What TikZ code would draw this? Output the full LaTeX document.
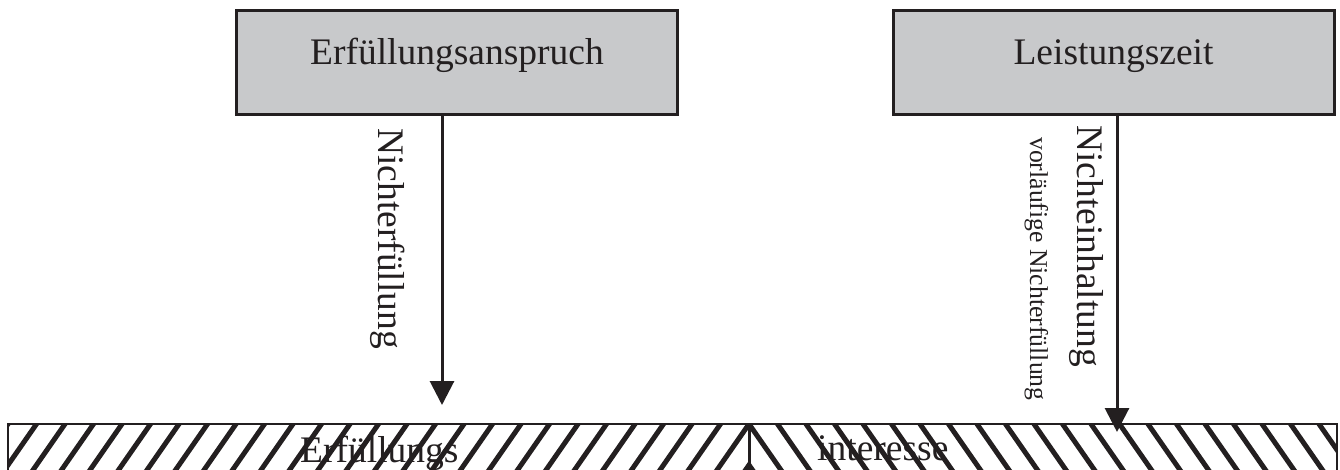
\documentclass[tikz,border=0pt]{standalone}
\usepackage{fontspec}
\setmainfont{Liberation Serif}
\usetikzlibrary{arrows.meta}
\definecolor{boxgray}{RGB}{200,201,203}
\definecolor{ink}{RGB}{35,31,32}
\begin{document}
\begin{tikzpicture}[x=1pt,y=-1pt,
  box/.style={draw=ink,line width=3pt,fill=boxgray,minimum width=441pt,minimum height=104pt,inner sep=0pt},
  big/.style={font=\fontsize{37.5}{40}\selectfont,text=ink,inner sep=0pt},
  small/.style={font=\fontsize{25.7}{28}\selectfont,text=ink,inner sep=0pt},
  flow/.style={draw=ink,line width=3pt,-{Triangle[width=24pt,length=24pt]}},
  hatch/.style={line width=5pt,draw=ink},
  bandline/.style={line width=2.5pt,draw=ink}]
\useasboundingbox (0,0) rectangle (1340,470);
% boxes
\node[box] (box1) at (457,63) {};
\node[big,anchor=base] (box1text) at (457,65) {Erfüllungsanspruch};
\node[box] (box2) at (1113.5,63) {};
\node[big,anchor=base] (box2text) at (1113.5,65) {Leistungszeit};
% band with hatching
\begin{scope}
  \clip (8,424) rectangle (749,500);
  \foreach \i in {-4,...,30} {
    \draw[hatch] ({749-28.5*\i+0.695*20},404) -- ({749-28.5*\i-0.695*100},524);
  }
\end{scope}
\begin{scope}
  \clip (749,424) rectangle (1337,500);
  \foreach \i in {-4,...,24} {
    \draw[hatch] ({749+28.5*\i-0.695*20},404) -- ({749+28.5*\i+0.695*100},524);
  }
\end{scope}
\draw[bandline] (8,424) rectangle (1337,500);
\coordinate (mtop) at (749,424);
\coordinate (mbot) at (749,500);
\draw[line width=3pt,draw=ink] (mtop) -- (mbot);
\node[big,anchor=base west] (erf) at (300,462) {Erfüllungs};
\node[big,anchor=base west] (int) at (817,460) {interesse};
% rotated labels
\node[big,rotate=-90,anchor=base west] (lab1) at (378,128) {Nichterfüllung};
\node[big,rotate=-90,anchor=base west] (lab2) at (1077,125) {Nichteinhaltung};
\node[small,rotate=-90,anchor=base west] (lab3) at (1030,137) {vorläufige Nichterfüllung};
% arrows
\coordinate (t1) at (442,405);
\coordinate (t2) at (1117,432);
\draw[flow] (box1.south -| t1) -- (t1);
\draw[flow] (box2.south -| t2) -- (t2);
\end{tikzpicture}
\end{document}
